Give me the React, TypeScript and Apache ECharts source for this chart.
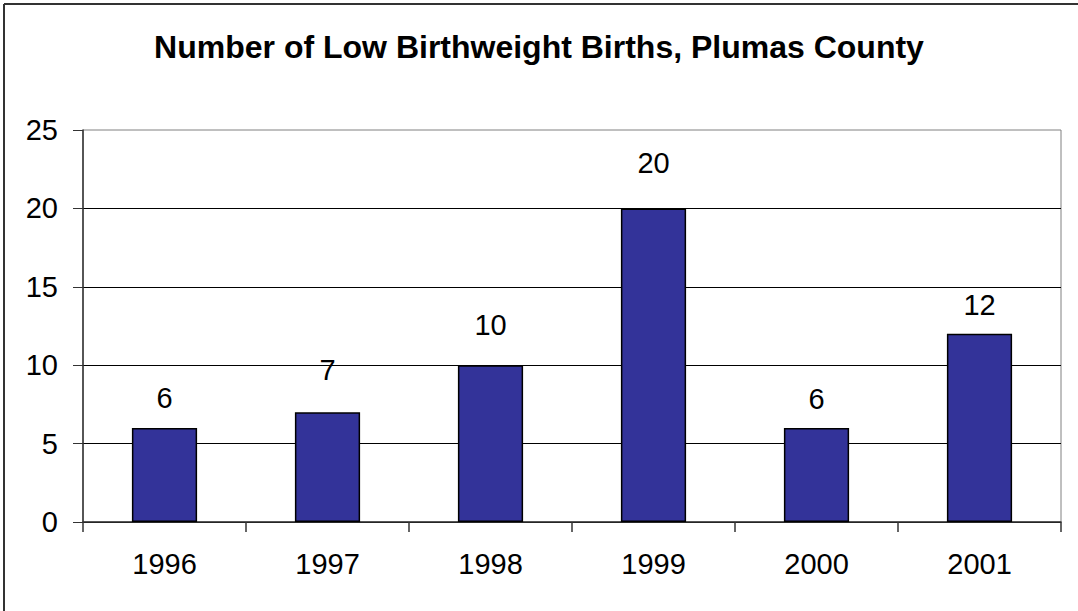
import React, { useEffect, useRef } from "react";
import * as echarts from "echarts";

const titleText = "Number of Low Birthweight Births, Plumas County";
const years = ["1996", "1997", "1998", "1999", "2000", "2001"];
const births = [6, 7, 10, 20, 6, 12];
const yMin = 0;
const yMax = 25;
const yStep = 5;

// styling only: gap (px) between each bar top and its value label, as in the original
const labelGaps = [15, 28, 26, 31, 14, 14];

const FONT = 'Arial, "Liberation Sans", Helvetica, sans-serif';

export default function App() {
  const ref = useRef<HTMLDivElement>(null);
  useEffect(() => {
    document.body.style.margin = "0";
    const chart = echarts.init(ref.current!, null, { renderer: "svg" });
    chart.setOption({
      animation: false,
      backgroundColor: "#ffffff",
      title: {
        text: titleText,
        left: "center",
        top: 26,
        textStyle: { fontFamily: FONT, fontSize: 32, fontWeight: "bold", color: "#000" },
      },
      grid: {
        left: 83,
        right: 17,
        top: 130,
        bottom: 89,
        show: true,
        borderColor: "#808080",
        borderWidth: 1,
        backgroundColor: "transparent",
      },
      xAxis: {
        type: "category",
        data: years,
        boundaryGap: true,
        axisLine: { show: true, lineStyle: { color: "#333", width: 1.5 } },
        axisTick: { show: true, length: 10, inside: false, lineStyle: { color: "#333", width: 1.5 } },
        axisLabel: { fontFamily: FONT, fontSize: 29, color: "#000", margin: 27 },
      },
      yAxis: {
        type: "value",
        min: yMin,
        max: yMax,
        interval: yStep,
        axisLine: { show: true, lineStyle: { color: "#333", width: 1.5 } },
        axisTick: { show: true, length: 10, lineStyle: { color: "#333", width: 1 } },
        axisLabel: { fontFamily: FONT, fontSize: 29, color: "#000", margin: 25 },
        splitLine: { show: true, showMaxLine: false, lineStyle: { color: "#000", width: 1 } },
      },
      series: [
        {
          type: "bar",
          data: births.map((v, i) => ({ value: v, label: { distance: labelGaps[i] } })),
          barWidth: "40%",
          itemStyle: { color: "#333399", borderColor: "#000", borderWidth: 1.5 },
          label: {
            show: true,
            position: "top",
            distance: 14,
            fontFamily: FONT,
            fontSize: 29,
            color: "#000",
          },
        },
      ],
      graphic: [
        { type: "line", shape: { x1: 4, y1: 4, x2: 1078, y2: 4 }, style: { stroke: "#333", lineWidth: 2 } },
        { type: "line", shape: { x1: 4, y1: 4, x2: 4, y2: 611 }, style: { stroke: "#333", lineWidth: 2 } },
      ],
    });
    return () => chart.dispose();
  }, []);
  return <div ref={ref} style={{ width: 1078, height: 611, position: "absolute", left: 0, top: 0 }} />;
}
